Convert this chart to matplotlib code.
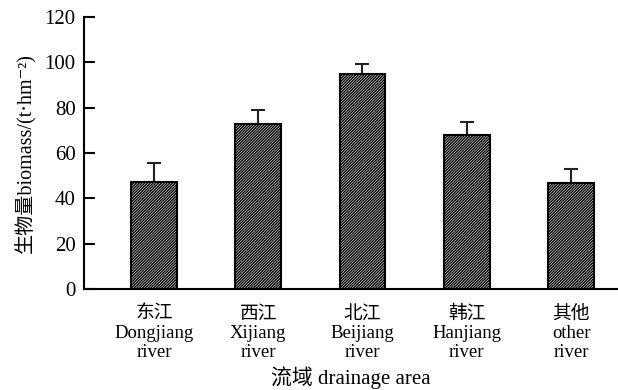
import matplotlib.pyplot as plt
import numpy as np

plt.rcParams['font.family'] = ['Liberation Serif', 'Noto Sans CJK SC', 'DejaVu Serif']
plt.rcParams['hatch.linewidth'] = 1.0

categories = ['东江\nDongjiang\nriver', '西江\nXijiang\nriver', '北江\nBeijiang\nriver',
              '韩江\nHanjiang\nriver', '其他\nother\nriver']
biomass = [47.3, 72.8, 94.7, 68.1, 46.9]
err_up = [8.1, 6.2, 4.7, 5.4, 6.2]

fig = plt.figure(figsize=(6.18, 3.9), dpi=100)
ax = fig.add_axes([0.136, 0.259, 0.864, 0.697])

x = np.arange(len(categories))
ax.bar(x, biomass, width=0.44, color='white', edgecolor='black', linewidth=1.5,
       hatch='/' * 12, zorder=2)
ax.errorbar(x, biomass, yerr=[np.zeros(len(x)), err_up], fmt='none', ecolor='#222222',
            elinewidth=1.5, capsize=5, capthick=1.5, zorder=1)

ax.set_xlim(-0.67, 4.45)
ax.set_ylim(0, 120)
ax.set_yticks(range(0, 121, 20))
ax.set_xticks(x)
ax.set_xticklabels(categories, fontsize=13.5, linespacing=1.15)
ax.tick_params(axis='y', direction='in', length=8, width=1.5, labelsize=15, pad=6)
ax.tick_params(axis='x', length=0, pad=12)

for side in ['top', 'right']:
    ax.spines[side].set_visible(False)
for side in ['left', 'bottom']:
    ax.spines[side].set_linewidth(1.5)

ax.set_xlabel('流域 drainage area', fontsize=15, labelpad=4)
ax.set_ylabel('生物量biomass/(t·hm⁻²)', fontsize=14.5, labelpad=6)

fig.savefig('out.png', dpi=100)
